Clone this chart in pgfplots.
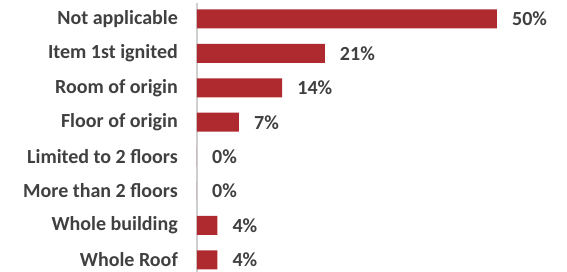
\documentclass[border=0pt]{standalone}
\usepackage{pgfplots}
\pgfplotsset{compat=1.18}
\usepackage{fontspec}
\setmainfont{Carlito}
\definecolor{barred}{HTML}{AF2A2F}
\definecolor{labgray}{HTML}{404040}
\definecolor{axgray}{HTML}{CFCFCF}
\begin{document}
\begin{tikzpicture}
\useasboundingbox (-197pt,0pt) rectangle (370pt,272pt);
\begin{axis}[
  at={(0pt,0pt)}, anchor=south west,
  scale only axis,
  width=342pt, height=269pt,
  xmin=0, xmax=57,
  ymin=-0.465, ymax=7.355,
  y dir=reverse,
  xbar, bar width=19pt,
  axis x line=none,
  axis y line*=left,
  y axis line style={axgray, line width=1.2pt},
  ytick={0,...,7},
  yticklabels={Not applicable, Item 1st ignited, Room of origin, Floor of origin, Limited to 2 floors, More than 2 floors, Whole building, Whole Roof},
  major tick length=0pt,
  yticklabel style={font=\bfseries\fontsize{20}{22}\selectfont, text=labgray, anchor=east, inner xsep=0pt, xshift=-19pt},
  point meta=explicit symbolic,
  nodes near coords,
  nodes near coords style={font=\bfseries\fontsize{20}{22}\selectfont, text=labgray, anchor=west, inner xsep=0pt, xshift=15pt},
  clip=false,
]
\addplot[fill=barred, draw=none] table[meta=lab] {
x y lab
50 0 50\%
21.3 1 21\%
14.2 2 14\%
7 3 7\%
0 4 0\%
0 5 0\%
3.4 6 4\%
3.4 7 4\%
};
\end{axis}
\end{tikzpicture}
\end{document}
